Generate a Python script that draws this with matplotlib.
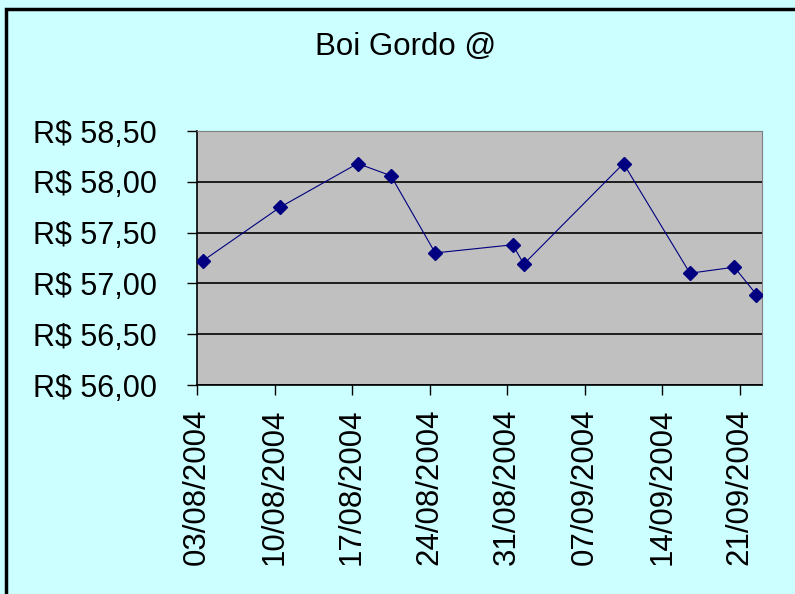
import matplotlib
matplotlib.use("Agg")
import matplotlib.pyplot as plt
import matplotlib.transforms as mtransforms
from matplotlib.patches import Rectangle
from datetime import datetime, timedelta

plt.rcParams['font.family'] = ['Liberation Sans', 'DejaVu Sans']

dates = ["03/08/2004", "10/08/2004", "17/08/2004", "20/08/2004", "24/08/2004",
         "31/08/2004", "01/09/2004", "10/09/2004", "16/09/2004", "20/09/2004",
         "22/09/2004"]
prices = [57.22, 57.75, 58.18, 58.06, 57.30, 57.38, 57.19, 58.18, 57.10, 57.16, 56.89]
tick_dates = ["03/08/2004", "10/08/2004", "17/08/2004", "24/08/2004",
              "31/08/2004", "07/09/2004", "14/09/2004", "21/09/2004"]
y_ticks = [56.0, 56.5, 57.0, 57.5, 58.0, 58.5]

def parse(s):
    return datetime.strptime(s, "%d/%m/%Y")

# excel puts each point in the middle of its day
x = [parse(d) + timedelta(hours=12) for d in dates]

fig = plt.figure(figsize=(7.95, 5.94), dpi=100, facecolor="#CCFFFF")
ax = fig.add_axes([197/795, 1 - 385/594, (762 - 197)/795, (385 - 131)/594])
ax.set_facecolor("#C0C0C0")

ax.plot(x, prices, color="#000080", linewidth=0.8, marker="D", markersize=7.5,
        markerfacecolor="#000080", markeredgecolor="#000080", zorder=3)

ax.set_xlim(parse("03/08/2004"), parse("22/09/2004") + timedelta(days=1))
ax.set_ylim(56.0, 58.5)
ax.set_yticks(y_ticks)
ax.set_yticklabels(["R$ " + f"{v:.2f}".replace(".", ",") for v in y_ticks])
ax.set_xticks([parse(d) for d in tick_dates])
ax.set_xticklabels(tick_dates, rotation=90, fontsize=22.5)

# nudge the date labels a bit to the right like excel does
shift = mtransforms.ScaledTranslation(4/100, 0, fig.dpi_scale_trans)
for lbl in ax.get_xticklabels():
    lbl.set_transform(lbl.get_transform() + shift)

ax.yaxis.grid(True, color="black", linewidth=1.2)
ax.set_axisbelow(True)

ax.tick_params(axis="both", direction="out", length=7, width=1, colors="black")
ax.tick_params(axis="y", labelsize=22, pad=22)
ax.tick_params(axis="x", pad=10)

ax.spines["left"].set_color("black")
ax.spines["bottom"].set_color("black")
ax.spines["left"].set_linewidth(1.2)
ax.spines["bottom"].set_linewidth(1.2)
ax.spines["top"].set_color("#808080")
ax.spines["right"].set_color("#808080")

fig.text(406/795, 1 - 47/594, "Boi Gordo @", ha="center", va="center", fontsize=22.5)

# chart frame (cut off at right and bottom)
fig.patches.append(Rectangle((6/795, -0.1), 1.2, 1 - 9/594 + 0.1, transform=fig.transFigure,
                             fill=False, edgecolor="black", linewidth=2.5))

fig.savefig("out.png", dpi=100, facecolor=fig.get_facecolor())
